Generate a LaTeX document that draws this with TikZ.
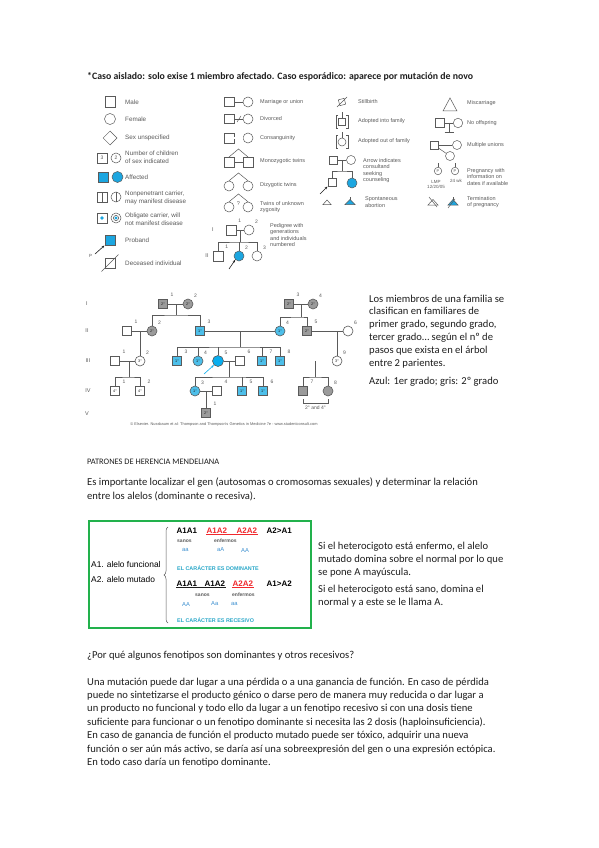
\documentclass[tikz,border=0pt]{standalone}
\usepackage{fontspec}
\setmainfont{Carlito}
\newfontfamily\arialfont{Liberation Sans}
\usetikzlibrary{arrows.meta, positioning, shapes.geometric, calc, decorations.pathreplacing}
\definecolor{affblue}{HTML}{1CA6E0}
\definecolor{pedblue}{HTML}{4DBFEA}
\definecolor{probblue}{HTML}{08AEEF}
\definecolor{pedgray}{HTML}{9B9B9B}
\definecolor{lineg}{HTML}{5A5A5A}
\definecolor{boxgreen}{HTML}{22B14C}
\definecolor{redtxt}{HTML}{F0282D}
\definecolor{tealtxt}{HTML}{2AA8C9}
\definecolor{bluetxt}{HTML}{3B8FD0}
\definecolor{inktxt}{HTML}{1E1E1E}

\begin{document}
\begin{tikzpicture}[
    x=1pt, y=-1pt,
    body/.style={font=\fontsize{10.6}{13.4}\selectfont, text=inktxt, align=left, anchor=north west, inner sep=0pt},
    line/.style={font=\fontsize{10.6}{13.4}\selectfont, text=inktxt, anchor=west, inner sep=0pt},
    lsym/.style={draw=lineg, line width=0.5pt},
    lsq/.style={lsym, rectangle, minimum size=10.5pt, inner sep=0pt, font=\arialfont\fontsize{5}{5}\selectfont, text=lineg},
    lci/.style={lsym, circle, minimum size=11pt, inner sep=0pt, font=\arialfont\fontsize{5}{5}\selectfont, text=lineg},
    legA/.style={font=\arialfont\fontsize{6.3}{7.6}\selectfont, text=lineg, anchor=west, align=left, inner sep=0pt},
    legB/.style={font=\arialfont\fontsize{5.5}{6.3}\selectfont, text=lineg, anchor=west, align=left, inner sep=0pt},
    pline/.style={draw=lineg, line width=0.6pt},
    psq/.style={pline, rectangle, minimum size=9.5pt, inner sep=0pt, font=\arialfont\fontsize{3.8}{4}\selectfont, text=inktxt},
    pci/.style={pline, circle, minimum size=10pt, inner sep=0pt, font=\arialfont\fontsize{3.8}{4}\selectfont, text=inktxt},
    deg1/.style={fill=pedblue},
    deg2/.style={fill=pedgray},
    pnum/.style={font=\arialfont\fontsize{5}{5}\selectfont, text=lineg, inner sep=0.5pt, label distance=2.5pt},
    gtype/.style={font=\arialfont\bfseries\fontsize{8}{8}\selectfont, anchor=west, inner sep=0.5pt},
    gsub/.style={font=\arialfont\bfseries\fontsize{5}{5}\selectfont, text=lineg, anchor=west, inner sep=0pt},
    gdose/.style={font=\arialfont\fontsize{5.8}{6}\selectfont, text=bluetxt, anchor=west, inner sep=0pt},
    gnote/.style={font=\arialfont\bfseries\fontsize{5.4}{6}\selectfont, text=tealtxt, anchor=west, inner sep=0pt},
    parr/.style={-{Stealth[length=3pt]}, line width=0.6pt},
]
\useasboundingbox (0,0) rectangle (599,848);
\fill[white] (0,0) rectangle (599,848);

% heading
\node[font=\bfseries\fontsize{9.8}{11}\selectfont, text=inktxt, anchor=west, inner sep=0pt] (aislado) at (87,77)
  {*Caso aislado: solo exise 1 miembro afectado. Caso esporádico: aparece por mutación de novo};

% ---- symbol legend, column 1
\node[lsq] (male) at (110,102) {};
\node[legA] (tmale) at (125,102) {Male};
\node[lci] (female) at (110,119) {};
\node[legA] (tfemale) at (125,119) {Female};
\node[lsym, diamond, minimum size=14pt, inner sep=0pt] (unsp) at (110,138) {};
\node[legA] (tunsp) at (125,138) {Sex unspecified};
\node[lsq, minimum size=9.5pt] (nmale) at (102,158) {3};
\node[lci, minimum size=10pt] (nfem) at (116,158) {2};
\node[legA] (tnum) at (125,157.5) {Number of children\\of sex indicated};
\node[lsq, fill=affblue, minimum size=10pt] (affm) at (103,177) {};
\node[lci, fill=affblue] (afff) at (117.5,177) {};
\node[legA] (taff) at (125,177) {Affected};
\node[lsq, minimum size=9.5pt] (npm) at (102,197) {};
\draw[lsym] (npm.north) -- (npm.south);
\node[lci, minimum size=10pt] (npf) at (116,197) {};
\draw[lsym] (npf.north) -- (npf.south);
\node[legA] (tnp) at (125,198) {Nonpenetrant carrier,\\may manifest disease};
\node[lsq, minimum size=9.5pt] (obm) at (102,218) {};
\fill[affblue] (obm.center) circle (1.8pt);
\node[lci, minimum size=10pt] (obf) at (116,218) {};
\draw[lsym] (obf.center) circle (2.6pt);
\fill[affblue] (obf.center) circle (1.6pt);
\node[legA] (tob) at (125,219) {Obligate carrier, will\\not manifest disease};
\node[lsq, fill=affblue] (prob) at (110,240) {};
\coordinate (pstart) at (95,254);
\draw[parr, draw=inktxt] (pstart) -- (prob.south west);
\node[legA, font=\arialfont\fontsize{4.5}{5}\selectfont] (tp) at (89,256) {P};
\node[legA] (tprob) at (125,240) {Proband};
\node[lsq] (dec) at (110,263) {};
\draw[lsym] ([shift={(-3,3)}]dec.south west) -- ([shift={(3,-3)}]dec.north east);
\node[legA] (tdec) at (125,263) {Deceased individual};

% ---- column 2
\node[lsq, minimum size=9.5pt] (um) at (229,102) {};
\node[lci, minimum size=10pt] (uf) at (248,102) {};
\draw[lsym] (um) -- (uf);
\node[legB] (tu) at (260,102) {Marriage or union};
\node[lsq, minimum size=9.5pt] (dm) at (229,119) {};
\node[lci, minimum size=10pt] (df) at (248,119) {};
\draw[lsym] (dm) -- (df);
\draw[lsym] (237,122) -- (241,116);
\node[legB] (td) at (260,119) {Divorced};
\node[lsq, minimum size=9.5pt] (km) at (229,138) {};
\node[lci, minimum size=10pt] (kf) at (248,138) {};
\draw[lsym, double, double distance=1.2pt] (km) -- (kf);
\node[legB] (tk) at (260,138) {Consanguinity};
\node[lsq, minimum size=9.5pt] (mz1) at (229,162) {};
\node[lsq, minimum size=9.5pt] (mz2) at (248,162) {};
\coordinate (mztop) at (238.5,149);
\draw[lsym] (mz1.north) -- (mztop) -- (mz2.north);
\draw[lsym] (mz1) -- (mz2);
\node[legB] (tmz) at (260,161) {Monozygotic twins};
\node[lci, minimum size=10pt] (dz1) at (229,186) {};
\node[lci, minimum size=10pt] (dz2) at (248,186) {};
\coordinate (dztop) at (238.5,173);
\draw[lsym] (dz1.north) -- (dztop) -- (dz2.north);
\node[legB] (tdz) at (260,185) {Dizygotic twins};
\node[lci, minimum size=10pt] (uz1) at (229,207) {};
\node[lci, minimum size=10pt] (uz2) at (248,207) {};
\coordinate (uztop) at (238.5,194);
\draw[lsym] (uz1.north) -- (uztop) -- (uz2.north);
\node[legB, anchor=center] (uzq) at (238.5,204) {?};
\node[legB] (tuz) at (260,207) {Twins of unknown\\zygosity};
% small pedigree
\node[legB, anchor=center] (gI) at (213,230) {I};
\node[lsq, minimum size=9.5pt, label={[pnum]45:1}] (pm) at (231,230) {};
\node[lci, minimum size=10pt, label={[pnum]45:2}] (pf) at (249,230) {};
\draw[lsym] (pm) -- (pf);
\coordinate (pdrop) at (240,230);
\coordinate (pbar) at (240,242);
\draw[lsym] (pdrop) -- (pbar);
\node[legB, anchor=center] (gII) at (207,256) {II};
\node[lsq, minimum size=9.5pt, label={[pnum]45:1}] (pc1) at (218,256) {};
\node[lci, minimum size=10pt, fill=affblue, label={[pnum]45:2}] (pc2) at (239,256) {};
\node[lci, minimum size=10pt, label={[pnum]45:3}] (pc3) at (257,256) {};
\draw[lsym] (pc1.north) |- (pbar) -| (pc3.north);
\draw[lsym] (pc2.north) -- (pc2.north |- pbar);
\coordinate (pcarr) at (229,269);
\draw[parr, draw=inktxt] (pcarr) -- (pc2.south west);
\node[legB] (tped) at (270,235) {Pedigree with\\generations\\and individuals\\numbered};

% ---- column 3
\node[lsq, minimum size=6pt, rotate=15] (still) at (342,102) {};
\draw[lsym] ([shift={(-5,5)}]still.center) -- ([shift={(5,-5)}]still.center);
\node[legB] (tstill) at (358,102) {Stillbirth};
\node[lsq, minimum size=7pt] (adin) at (342,122) {};
\draw[lsym] (338,115.5) -- (336,115.5) -- (336,128.5) -- (338,128.5);
\draw[lsym] (346,115.5) -- (348,115.5) -- (348,128.5) -- (346,128.5);
\draw[lsym] (adin.north) -- ++(0,-6);
\node[legB] (tadin) at (358,121) {Adopted into family};
\node[lci, minimum size=8pt] (adout) at (342,142) {};
\draw[lsym] (338,135.5) -- (336,135.5) -- (336,148.5) -- (338,148.5);
\draw[lsym] (346,135.5) -- (348,135.5) -- (348,148.5) -- (346,148.5);
\draw[lsym] (adout.north) -- ++(0,-6);
\node[legB] (tadout) at (358,141) {Adopted out of family};
\node[lsq, minimum size=8.5pt] (cm) at (333,160) {};
\node[lci, minimum size=9pt] (cf) at (351,160) {};
\draw[lsym] (cm) -- (cf);
\coordinate (cdrop) at (342,160);
\coordinate (cbar) at (342,171);
\draw[lsym] (cdrop) -- (cbar);
\node[lsq, minimum size=8.5pt] (cson) at (332,182) {};
\node[lci, minimum size=10pt, fill=affblue] (cdau) at (352,183) {};
\draw[lsym] (cson.north) |- (cbar) -| (cdau.north);
\coordinate (carr) at (320,194);
\draw[parr, draw=inktxt] (carr) -- (cson.south west);
\node[legB] (tcons) at (363,170.5) {Arrow indicates\\consultand\\seeking\\counseling};
\draw[lsym] (323,204.5) -- (327,200) -- (331,204.5) -- cycle;
\draw[lsym, fill=affblue] (345,204.5) -- (350,199.5) -- (355,204.5) -- cycle;
\draw[lsym] (350,199.5) -- (350,197);
\node[legB] (tsab) at (365,202) {Spontaneous\\abortion};

% ---- column 4
\draw[lsym] (443,111) -- (450,98) -- (457,111) -- cycle;
\node[legB] (tmis) at (467,103) {Miscarriage};
\node[lsq, minimum size=9pt] (nom) at (440,123) {};
\node[lci, minimum size=9.5pt] (nof) at (458,123) {};
\draw[lsym] (nom) -- (nof);
\coordinate (nodrop) at (449,123);
\coordinate (nobar) at (449,132);
\draw[lsym] (nodrop) -- (nobar);
\draw[lsym] (444.5,132) -- (453.5,132);
\node[legB] (tnoo) at (467,123) {No offspring};
\node[lsq, minimum size=8.5pt] (mum) at (434,145) {};
\node[lci, minimum size=9pt] (muf1) at (457,145) {};
\node[lci, minimum size=9pt] (muf2) at (450,156) {};
\draw[lsym] (mum) -- (muf1);
\draw[lsym] (mum) -- (muf2);
\node[legB] (tmu) at (467,145) {Multiple unions};
\node[lci, minimum size=7.5pt, font=\arialfont\fontsize{4}{4}\selectfont] (preg1) at (438,171) {P};
\node[lci, minimum size=7.5pt, font=\arialfont\fontsize{4}{4}\selectfont] (preg2) at (455,171) {P};
\draw[lsym] (preg1.north) -- ++(0,-4);
\draw[lsym] (preg2.north) -- ++(0,-4);
\node[legB, anchor=center, font=\arialfont\fontsize{4.5}{5.5}\selectfont, align=center] (tlmp) at (436,184.5) {LMP\\12/20/05};
\node[legB, anchor=center, font=\arialfont\fontsize{4.5}{5}\selectfont] (twk) at (456,181) {24 wk};
\node[legB] (tpreg) at (467,177) {Pregnancy with\\information on\\dates if available};
\draw[lsym] (428,205) -- (433,199.5) -- (438,205) -- cycle;
\draw[lsym] (429,197) -- (437,207);
\draw[lsym, fill=affblue] (448,205) -- (453,199.5) -- (458,205) -- cycle;
\draw[lsym] (453,199.5) -- (453,197);
\draw[lsym] (448,208) -- (455,199);
\node[legB] (tterm) at (467,202) {Termination\\of pregnancy};

% ---- pedigree
\node[legB, anchor=center] (genI) at (87,304) {I};
\node[legB, anchor=center] (genII) at (87,331) {II};
\node[legB, anchor=center] (genIII) at (88,361) {III};
\node[legB, anchor=center] (genIV) at (88,391) {IV};
\node[legB, anchor=center] (genV) at (87,414) {V};

% generation I
\node[psq, deg2, label={[pnum]45:1}] (p1) at (163,304) {2°};
\node[pci, deg2, label={[pnum]45:2}] (p2) at (188,304) {2°};
\node[psq, deg2, label={[pnum]45:3}] (p3) at (289,304) {2°};
\node[pci, deg2, label={[pnum]45:4}] (p4) at (313,304) {2°};
% generation II
\node[psq, label={[pnum]45:1}] (q1) at (127,331) {};
\node[pci, deg2, label={[pnum]45:2}] (q2) at (152,331) {2°};
\node[psq, deg1, label={[pnum]45:3}] (q3) at (200,331) {1°};
\node[pci, deg1, label={[pnum]45:4}] (q4) at (280,331) {1°};
\node[psq, deg2, label={[pnum]45:5}] (q5) at (307,331) {2°};
\node[pci, label={[pnum]45:6}] (q6) at (348,331) {};
% generation III
\node[psq, label={[pnum]45:1}] (r1) at (115,361) {};
\node[pci, label={[pnum]45:2}] (r2) at (140,361) {3°};
\node[psq, deg1, label={[pnum]45:3}] (r3) at (177,361) {1°};
\node[pci, deg1, label={[pnum]45:4}] (r4) at (198,361) {1°};
\node[pci, fill=probblue, minimum size=11pt, label={[pnum]45:5}] (r5) at (218,361) {};
\node[psq, label={[pnum]45:6}] (r6) at (240,361) {};
\node[psq, deg1, label={[pnum]45:7}] (r7) at (262,361) {1°};
\node[psq, deg1, label={[pnum]45:8}] (r8) at (280,361) {1°};
\node[pci, label={[pnum]45:9}] (r9) at (337,361) {3°};
% generation IV
\node[psq, label={[pnum]45:1}] (s1) at (115,391) {4°};
\node[psq, label={[pnum]45:2}] (s2) at (140,391) {4°};
\node[pci, deg1, label={[pnum]45:3}] (s3) at (195,391) {1°};
\node[psq, label={[pnum]45:4}] (s4) at (217,391) {};
\node[psq, deg1, label={[pnum]45:5}] (s5) at (242,391) {1°};
\node[psq, deg1, label={[pnum]45:6}] (s6) at (263,391) {1°};
\node[psq, deg2, label={[pnum]45:7}] (s7) at (303,391) {};
\node[pci, deg2, label={[pnum]45:8}] (s8) at (328,391) {};
% generation V
\node[psq, deg2, label={[pnum]45:1}] (t1) at (206,413) {2°};

% unions
\draw[pline] (p1) -- (p2);
\draw[pline] (p3) -- (p4);
\draw[pline] (q1) -- (q2);
\draw[pline] (q3) -- (q4);
\draw[pline] (q5) -- (q6);
\draw[pline] (r1) -- (r2);
\draw[pline] (r5) -- (r6);
\draw[pline, double, double distance=1.3pt] (r8) -- (r9);
\draw[pline] (s3) -- (s4);

% descent lines
\coordinate (fa) at (176,304);  \coordinate (fab) at (176,315);
\draw[pline] (fa) -- (fab);
\draw[pline] (q2.north) |- (fab) -| (q3.north);
\coordinate (fb) at (301,304);  \coordinate (fbb) at (301,317);
\draw[pline] (fb) -- (fbb);
\draw[pline] (q4.north) |- (fbb) -| (q5.north);
\draw[pline] (r2.north |- q1) -- (r2.north);
\draw[pline] (r9.north |- q6) -- (r9.north);
\coordinate (fd) at (240,331);  \coordinate (fdb) at (240,347);
\draw[pline] (fd) -- (fdb);
\draw[pline] (r3.north) |- (fdb) -| (r8.north);
\foreach \kid in {r4, r5, r7}
  \draw[pline] (\kid.north) -- (\kid.north |- fdb);
\coordinate (ff) at (129,361);  \coordinate (ffb) at (129,377);
\draw[pline] (ff) -- (ffb);
\draw[pline] (s1.north) |- (ffb) -| (s2.north);
\coordinate (fg) at (229,361);  \coordinate (fgb) at (229,377);
\draw[pline] (fg) -- (fgb);
\draw[pline] (s3.north) |- (fgb) -| (s6.north);
\draw[pline] (s5.north) -- (s5.north |- fgb);
\coordinate (fh) at (315,361);  \coordinate (fhb) at (315,377);
\draw[pline] (fh) -- (fhb);
\draw[pline] (s7.north) |- (fhb) -| (s8.north);
\draw[pline] (t1.north |- s3) -- (t1.north);

% proband and bracket
\coordinate (pedarr) at (204,374);
\draw[parr, draw=probblue] (pedarr) -- (r5.south west);
\coordinate (brl) at (303,399);  \coordinate (brr) at (328,399);
\draw[pline, line width=0.4pt] (brl) -- ++(0,4) -| (brr);
\node[pnum] (twodeg) at (315.5,408) {2° and 4°};
\node[font=\arialfont\fontsize{3.9}{4}\selectfont, text=lineg, inner sep=0pt] (copy) at (224,424)
  {© Elsevier. Nussbaum et al: Thompson and Thompson's Genetics in Medicine 7e - www.studentconsult.com};

% text beside pedigree
\node[body, font=\fontsize{10.6}{12.8}\selectfont] (grados) at (369,294.5)
  {Los miembros de una familia se\\clasifican en familiares de\\primer grado, segundo grado,\\tercer grado… según el nº de\\pasos que exista en el árbol\\entre 2 parientes.};
\node[line] (colores) at (369,382) {Azul: 1er grado; gris: 2º grado};

% Mendelian patterns
\node[line, font=\fontsize{8.4}{10}\selectfont] (patrones) at (87,462) {PATRONES DE HERENCIA MENDELIANA};
\node[body] (localizar) at (87,478)
  {Es importante localizar el gen (autosomas o cromosomas sexuales) y determinar la relación\\entre los alelos (dominante o recesiva).};

% allele box
\node[draw=boxgreen, line width=1.5pt, minimum width=222pt, minimum height=107pt, anchor=north west, inner sep=0pt] (gbox) at (88,520) {};
\node[font=\arialfont\fontsize{8.4}{9}\selectfont, anchor=west, inner sep=0pt] (func) at (91,564) {A1. alelo funcional};
\node[font=\arialfont\fontsize{8.4}{9}\selectfont, anchor=west, inner sep=0pt] (mut) at (91,579) {A2. alelo mutado};
\draw[lineg, line width=0.5pt, decorate, decoration={brace, amplitude=4pt}] (168,623) -- (168,527);

\node[gtype] (a11) at (176,531) {A1A1};
\node[gtype, text=redtxt] (a12) at (206,531) {A1A2};
\node[gtype, text=redtxt] (a22) at (236,531) {A2A2};
\node[gtype] (domA) at (266,531) {A2>A1};
\draw[redtxt, line width=0.6pt] (a12.south west) -- (a22.south east);
\node[gsub] (sanos1) at (177,541) {sanos};
\node[gsub] (enf1) at (214,541) {enfermos};
\node[gdose] (d1aa) at (182,550) {aa};
\node[gdose] (d1aA) at (217,550) {aA};
\node[gdose] (d1AA) at (241,550) {AA};
\node[gnote] (dominante) at (177,568) {EL CARÁCTER ES DOMINANTE};

\node[gtype] (b11) at (176,584) {A1A1};
\node[gtype] (b12) at (204,584) {A1A2};
\node[gtype, text=redtxt] (b22) at (232,584) {A2A2};
\node[gtype] (domB) at (266,584) {A1>A2};
\draw[inktxt, line width=0.6pt] (b11.south west) -- (b12.south east);
\draw[redtxt, line width=0.6pt] (b22.south west) -- (b22.south east);
\node[gsub] (sanos2) at (195,595) {sanos};
\node[gsub] (enf2) at (232,595) {enfermos};
\node[gdose] (d2AA) at (182,604) {AA};
\node[gdose] (d2Aa) at (211,604) {Aa};
\node[gdose] (d2aa) at (231,604) {aa};
\node[gnote] (recesivo) at (177,620) {EL CARÁCTER ES RECESIVO};

% text beside the box
\node[body] (enfermo) at (318,541.5)
  {Si el heterocigoto está enfermo, el alelo\\mutado domina sobre el normal por lo que\\se pone A mayúscula.};
\node[body] (sano) at (318,584.5)
  {Si el heterocigoto está sano, domina el\\normal y a este se le llama A.};

% why dominant or recessive
\node[line] (pregunta) at (87,656) {¿Por qué algunos fenotipos son dominantes y otros recesivos?};
\node[body] (mutacion) at (87,677.5)
  {Una mutación puede dar lugar a una pérdida o a una ganancia de función. En caso de pérdida\\
   puede no sintetizarse el producto génico o darse pero de manera muy reducida o dar lugar a\\
   un producto no funcional y todo ello da lugar a un fenotipo recesivo si con una dosis tiene\\
   suficiente para funcionar o un fenotipo dominante si necesita las 2 dosis (haploinsuficiencia).\\
   En caso de ganancia de función el producto mutado puede ser tóxico, adquirir una nueva\\
   función o ser aún más activo, se daría así una sobreexpresión del gen o una expresión ectópica.\\
   En todo caso daría un fenotipo dominante.};
\end{tikzpicture}
\end{document}
